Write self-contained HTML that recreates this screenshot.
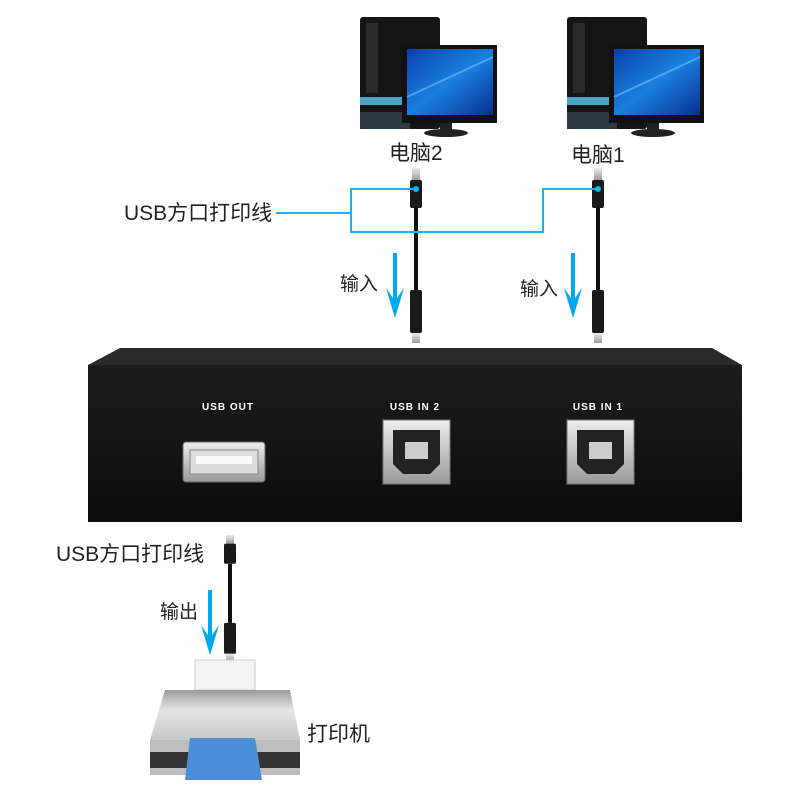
<!DOCTYPE html>
<html><head><meta charset="utf-8"><style>
body{margin:0;background:#fff}
svg text{font-family:"Liberation Sans","Noto Sans CJK SC",sans-serif}
</style></head><body>
<svg width="800" height="800" viewBox="0 0 800 800" xmlns="http://www.w3.org/2000/svg">
<defs>
<linearGradient id="scr" x1="0" y1="0" x2="1" y2="1"><stop offset="0" stop-color="#0a3fa8"/><stop offset="0.5" stop-color="#1a7fe0"/><stop offset="1" stop-color="#0a2f90"/></linearGradient>
<linearGradient id="box" x1="0" y1="0" x2="0" y2="1"><stop offset="0" stop-color="#1c1c1c"/><stop offset="1" stop-color="#0c0c0c"/></linearGradient>
<linearGradient id="met" x1="0" y1="0" x2="0" y2="1"><stop offset="0" stop-color="#eee"/><stop offset="1" stop-color="#999"/></linearGradient>
<linearGradient id="prn" x1="0" y1="0" x2="0" y2="1"><stop offset="0" stop-color="#9a9a9a"/><stop offset="0.4" stop-color="#e6e6e6"/><stop offset="1" stop-color="#c8c8c8"/></linearGradient>
<g id="pc">
<rect x="0" y="0" width="80" height="112" rx="3" fill="#151515"/>
<rect x="6" y="6" width="12" height="70" fill="#2a2a2a"/>
<rect x="0" y="80" width="48" height="8" fill="#4fa3c8"/>
<rect x="0" y="95" width="50" height="17" fill="#2d3a44"/>
<rect x="42" y="28" width="95" height="78" fill="#111"/>
<rect x="47" y="32" width="86" height="66" fill="url(#scr)"/>
<path d="M47 80 Q90 60 133 40" stroke="#6cc6ff" stroke-width="2" fill="none" opacity=".6"/>
<rect x="80" y="106" width="12" height="8" fill="#222"/>
<ellipse cx="86" cy="116" rx="22" ry="4" fill="#222"/>
</g>
<g id="cable">
<rect x="-4" y="0" width="8" height="12" fill="url(#met)"/>
<rect x="-6" y="12" width="12" height="28" rx="2" fill="#1a1a1a"/>
<rect x="-2" y="40" width="4" height="82" fill="#111"/>
<rect x="-6" y="122" width="12" height="43" rx="2" fill="#1a1a1a"/>
<rect x="-4" y="165" width="8" height="10" fill="url(#met)"/>
</g>
<g id="arrow">
<rect x="-2" y="0" width="4" height="48" fill="#00a8ec"/>
<path d="M-9 35 L0 65 L9 35 L0 48 Z" fill="#00a8ec"/>
</g>
<g id="bport">
<rect x="0" y="0" width="67" height="64" fill="url(#met)" stroke="#777"/>
<path d="M10 10 H57 V44 L47 54 H20 L10 44 Z" fill="#222"/>
<rect x="22" y="22" width="23" height="17" fill="#ccc"/>
</g>
</defs>

<use href="#pc" x="360" y="17"/>
<use href="#pc" x="567" y="17"/>
<text x="389" y="160" font-size="21" fill="#222">电脑2</text>
<text x="571" y="162" font-size="21" fill="#222">电脑1</text>

<use href="#cable" x="416" y="168"/>
<use href="#cable" x="598" y="168"/>

<g stroke="#14b4ec" stroke-width="2" fill="none">
<path d="M276 213 H351"/>
<path d="M416 189 H351 V232 H543 V189 H598"/>
</g>
<circle cx="416" cy="189" r="3" fill="#14b4ec"/>
<circle cx="598" cy="189" r="3" fill="#14b4ec"/>
<text x="124" y="220" font-size="21" fill="#222">USB方口打印线</text>

<use href="#arrow" x="395" y="253"/>
<use href="#arrow" x="573" y="253"/>
<text x="340" y="290" font-size="19" fill="#222">输入</text>
<text x="520" y="295" font-size="19" fill="#222">输入</text>

<path d="M120 348 H712 L742 365 H88 Z" fill="#2a2a2a"/>
<rect x="88" y="365" width="654" height="157" fill="url(#box)"/>
<g fill="#fff" font-size="10" font-weight="bold" text-anchor="middle" letter-spacing="1">
<text x="228" y="410">USB OUT</text>
<text x="415" y="410">USB IN 2</text>
<text x="598" y="410">USB IN 1</text>
</g>
<rect x="183" y="442" width="82" height="40" rx="3" fill="url(#met)" stroke="#666"/>
<rect x="190" y="450" width="68" height="24" fill="#ddd" stroke="#888"/>
<rect x="196" y="456" width="56" height="8" fill="#fafafa"/>
<use href="#bport" x="383" y="420"/>
<use href="#bport" x="567" y="420"/>

<text x="56" y="561" font-size="21" fill="#222">USB方口打印线</text>
<g transform="translate(230,535) scale(1,0.72)"><use href="#cable"/></g>
<use href="#arrow" x="210" y="590"/>
<text x="160" y="618" font-size="19" fill="#222">输出</text>

<rect x="195" y="660" width="60" height="30" fill="#f4f4f4" stroke="#ccc"/>
<path d="M165 690 H290 L300 740 H150 Z" fill="url(#prn)"/>
<rect x="150" y="740" width="150" height="35" fill="#bdbdbd"/>
<rect x="150" y="752" width="150" height="16" fill="#333"/>
<path d="M190 738 H255 L262 780 H185 Z" fill="#4a8fd8"/>
<text x="307" y="741" font-size="21" fill="#222">打印机</text>
</svg>
</body></html>
